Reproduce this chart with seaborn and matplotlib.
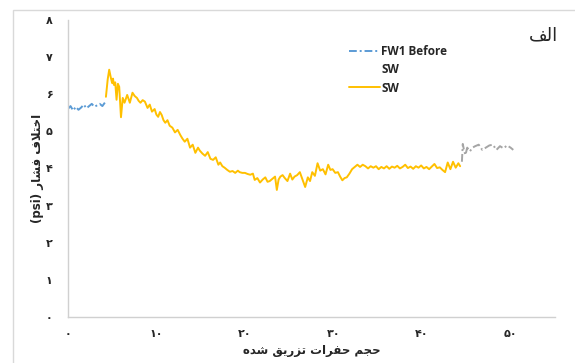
import pandas as pd
import matplotlib.pyplot as plt
import seaborn as sns
from matplotlib.patches import Rectangle


# FW1 Before SW (blue, dash-dot)
fw1_x = [0.0, 0.3, 0.6, 0.9, 1.2, 1.5, 1.8, 2.1, 2.4, 2.7, 3.0, 3.3, 3.6, 3.9, 4.2]
fw1_y = [5.60, 5.68, 5.56, 5.66, 5.58, 5.64, 5.72, 5.62, 5.68, 5.74, 5.66, 5.70, 5.74, 5.68, 5.78]

# SW (gold)
sw_x = [
	4.3, 4.5, 4.67, 4.85, 5.0, 5.1, 5.2, 5.35, 5.5, 5.65, 5.8, 6.0, 6.2, 6.4, 6.7,
	7.0, 7.3, 7.55, 7.8, 8.0, 8.2, 8.45, 8.7, 9.0, 9.25, 9.5, 9.8, 10.0, 10.2, 10.4,
	10.6, 10.8, 11.0, 11.25, 11.5, 11.8, 12.1, 12.4, 12.7, 12.95, 13.2, 13.5, 13.8, 14.1, 14.4,
	14.7, 14.9, 15.2, 15.5, 15.8, 16.1, 16.4, 16.7, 17.0, 17.2, 17.45, 17.7, 18.0, 18.3, 18.6,
	18.9, 19.2, 19.4, 19.7, 20.0, 20.3, 20.6, 20.9, 21.1, 21.4, 21.7, 22.0, 22.3, 22.55, 22.8,
	23.1, 23.4, 23.6, 23.8, 24.0, 24.25, 24.5, 24.8, 25.1, 25.35, 25.6, 25.9, 26.2, 26.5, 26.8,
	27.1, 27.35, 27.6, 27.9, 28.2, 28.5, 28.8, 29.1, 29.4, 29.65, 29.9, 30.2, 30.5, 30.75, 31.0,
	31.25, 31.5, 31.8, 32.1, 32.4, 32.7, 33.0, 33.3, 33.6, 33.9, 34.2, 34.5, 34.8, 35.1, 35.4,
	35.7, 36.0, 36.3, 36.6, 36.9, 37.2, 37.5, 37.8, 38.1, 38.4, 38.7, 39.0, 39.3, 39.6, 39.9,
	40.2, 40.5, 40.8, 41.1, 41.4, 41.7, 42.0, 42.3, 42.6, 42.9, 43.2, 43.5, 43.8, 44.1, 44.3,
]
sw_y = [
	5.93, 6.40, 6.66, 6.45, 6.30, 6.42, 6.25, 6.32, 5.85, 6.28, 6.20, 5.38, 5.90, 5.77, 5.98,
	5.77, 6.04, 5.95, 5.90, 5.82, 5.77, 5.84, 5.80, 5.63, 5.72, 5.53, 5.60, 5.45, 5.39, 5.52,
	5.44, 5.30, 5.23, 5.30, 5.15, 5.10, 4.97, 5.04, 4.90, 4.80, 4.72, 4.80, 4.56, 4.64, 4.42,
	4.56, 4.48, 4.40, 4.34, 4.44, 4.26, 4.23, 4.30, 4.10, 4.16, 4.06, 4.02, 3.96, 3.91, 3.93,
	3.88, 3.94, 3.90, 3.88, 3.88, 3.85, 3.83, 3.86, 3.69, 3.74, 3.62, 3.70, 3.76, 3.64, 3.66,
	3.72, 3.78, 3.42, 3.70, 3.78, 3.82, 3.74, 3.66, 3.86, 3.70, 3.78, 3.82, 3.90, 3.70, 3.50,
	3.76, 3.66, 3.90, 3.80, 4.14, 3.94, 3.98, 3.84, 4.10, 3.96, 3.98, 3.88, 3.90, 3.78, 3.68,
	3.74, 3.76, 3.86, 3.98, 4.04, 4.10, 4.04, 4.10, 4.06, 4.00, 4.06, 4.02, 4.06, 3.98, 4.04,
	4.00, 4.06, 3.99, 4.05, 4.02, 4.07, 4.00, 4.04, 4.10, 4.01, 4.05, 3.99, 4.06, 4.02, 4.08,
	4.00, 4.04, 3.98, 4.05, 4.12, 4.01, 4.03, 3.96, 3.90, 4.16, 3.98, 4.18, 4.02, 4.14, 4.06,
]

# after SW (gray, dash-dot, not in legend)
after_x = [44.5, 44.6, 44.75, 44.9, 45.1, 45.4, 45.7, 46.0, 46.4, 46.8, 47.2, 47.6, 48.0, 48.4, 48.8, 49.2, 49.6, 50.0, 50.3]
after_y = [4.18, 4.66, 4.48, 4.36, 4.56, 4.46, 4.56, 4.60, 4.64, 4.50, 4.56, 4.62, 4.64, 4.50, 4.60, 4.54, 4.62, 4.56, 4.50]

x_ticks = [0, 10, 20, 30, 40, 50]
y_ticks = [0, 1, 2, 3, 4, 5, 6, 7, 8]

X_LABEL = "حجم حفرات تزریق شده"
Y_LABEL = "اختلاف فشار"
PANEL = "الف"

BLUE = "#5B9BD5"
GOLD = "#FFC000"
GRAY = "#A5A5A5"

# isolated, final, initial, medial (None = does not join forward)
FORMS = {
	"ا": ("\uFE8D", "\uFE8E", None, None),
	"د": ("\uFEA9", "\uFEAA", None, None),
	"ر": ("\uFEAD", "\uFEAE", None, None),
	"ز": ("\uFEAF", "\uFEB0", None, None),
	"ت": ("\uFE95", "\uFE96", "\uFE97", "\uFE98"),
	"ج": ("\uFE9D", "\uFE9E", "\uFE9F", "\uFEA0"),
	"ح": ("\uFEA1", "\uFEA2", "\uFEA3", "\uFEA4"),
	"خ": ("\uFEA5", "\uFEA6", "\uFEA7", "\uFEA8"),
	"ش": ("\uFEB5", "\uFEB6", "\uFEB7", "\uFEB8"),
	"ف": ("\uFED1", "\uFED2", "\uFED3", "\uFED4"),
	"ق": ("\uFED5", "\uFED6", "\uFED7", "\uFED8"),
	"ل": ("\uFEDD", "\uFEDE", "\uFEDF", "\uFEE0"),
	"م": ("\uFEE1", "\uFEE2", "\uFEE3", "\uFEE4"),
	"ه": ("\uFEE9", "\uFEEA", "\uFEEB", "\uFEEC"),
	"ی": ("\uFEEF", "\uFEF0", "\uFEF3", "\uFEF4"),
}


def joins_forward(ch) -> bool:
	return ch in FORMS and FORMS[ch][2] is not None


def fa(text) -> str:
	# shape persian letters and flip to visual order (matplotlib has no bidi)
	out = []
	i = 0
	while i < len(text):
		ch = text[i]
		prev = text[i - 1] if i > 0 else ""
		nxt = text[i + 1] if i + 1 < len(text) else ""
		if ch not in FORMS:
			out.append(ch)
			i += 1
			continue
		back = joins_forward(prev)
		if ch == "ل" and nxt == "ا":
			out.append("\uFEFC" if back else "\uFEFB")
			i += 2
			continue
		fwd = joins_forward(ch) and nxt in FORMS
		iso, fin, ini, med = FORMS[ch]
		if back and fwd:
			out.append(med)
		elif back:
			out.append(fin)
		elif fwd:
			out.append(ini)
		else:
			out.append(iso)
		i += 1
	return "".join(reversed(out))


def fa_digits(n) -> str:
	return str(n).translate(str.maketrans("0123456789", "۰۱۲۳۴۵۶۷۸۹"))


def plot_chart() -> None:
	fig, ax = plt.subplots(figsize=(5.75, 3.63), dpi=100)
	fig.subplots_adjust(left=0.118, right=0.965, bottom=0.127, top=0.945)

	dash_dot = (0, (4, 1.5, 1, 1.5))
	sns.lineplot(x=fw1_x, y=fw1_y, ax=ax, color=BLUE, linewidth=1.4,
		linestyle=dash_dot, label="FW1 Before")
	ax.plot([], [], color="none", label="SW")
	sns.lineplot(x=sw_x, y=sw_y, ax=ax, color=GOLD, linewidth=1.4, label="SW")
	sns.lineplot(x=after_x, y=after_y, ax=ax, color=GRAY, linewidth=1.4,
		linestyle=dash_dot)

	ax.set_xlim(0, 55)
	ax.set_ylim(0, 8)
	ax.set_xticks(x_ticks)
	ax.set_yticks(y_ticks)
	ax.set_xticklabels([fa_digits(v) for v in x_ticks], fontweight="bold", fontsize=8)
	ax.set_yticklabels([fa_digits(v) for v in y_ticks], fontweight="bold", fontsize=8)
	ax.tick_params(axis="x", length=0, pad=9)
	ax.tick_params(axis="y", length=0, pad=11)

	for side in ["top", "right"]:
		ax.spines[side].set_visible(False)
	for side in ["left", "bottom"]:
		ax.spines[side].set_color("#D0D0D0")
		ax.spines[side].set_linewidth(1.0)

	ax.set_xlabel(fa(X_LABEL), fontweight="bold", fontsize=8.5, labelpad=3)
	ax.set_ylabel("(psi) " + fa(Y_LABEL), fontweight="bold", fontsize=8.5, labelpad=1)

	ax.legend(
		loc="upper left",
		bbox_to_anchor=(349 / 575, 1 - 45 / 363),
		bbox_transform=fig.transFigure,
		frameon=False,
		prop={"family": "Open Sans", "weight": "bold", "size": 8.5},
		handlelength=2.6,
		handletextpad=0.15,
		labelspacing=0.45,
		borderpad=0,
		borderaxespad=0,
	)

	fig.text(543 / 575, 1 - 35 / 363, fa(PANEL), fontsize=13, ha="center", va="center")

	# chart area border (Excel style)
	fig.patches.append(Rectangle(
		(13 / 575, -0.2), 1.2, 0.2 + 1 - 10 / 363,
		transform=fig.transFigure, fill=False, edgecolor="#D9D9D9", linewidth=1.0
	))

	fig.savefig("out.png", dpi=100)


def main():
	sns.set_theme(style="white")
	plt.rcParams["font.family"] = ["DejaVu Sans"]
	plot_chart()


if __name__ == "__main__":
	main()
